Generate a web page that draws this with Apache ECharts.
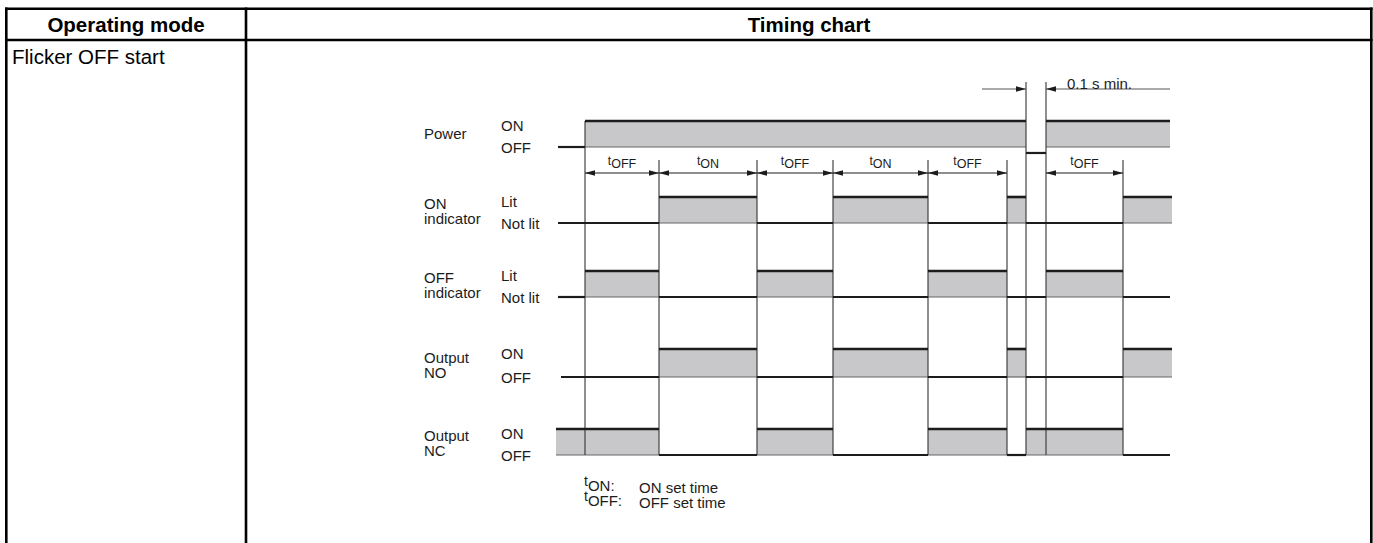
<!DOCTYPE html>
<html><head><meta charset="utf-8">
<script src="https://cdn.jsdelivr.net/npm/echarts@6/dist/echarts.min.js"></script>
<style>html,body{margin:0;padding:0;background:#fff}#c{width:1373px;height:543px}</style>
</head><body><div id="c"></div>
<script>
// ---------------- data ----------------
const headers = ['Operating mode', 'Timing chart'];
const modeName = 'Flicker OFF start';
const signalNames = ['Power', 'ON\nindicator', 'OFF\nindicator', 'Output\nNO', 'Output\nNC'];
const highLabels = ['ON', 'Lit', 'Lit', 'ON', 'ON'];
const lowLabels = ['OFF', 'Not lit', 'Not lit', 'OFF', 'OFF'];
// transition times (drawing time units, 0 = power switched on); one level per interval
const powerTimes = [-27, 0, 441, 461, 585];
const powerLevels = [0, 1, -0.23, 1];
const onIndTimes = [-27, 74, 172, 248, 343, 422, 441, 538, 587];
const onIndLevels = [0, 1, 0, 1, 0, 1, 0, 1];
const offIndTimes = [-27, 0, 74, 172, 248, 343, 422, 461, 538, 585];
const offIndLevels = [0, 1, 0, 1, 0, 1, 0, 1, 0];
const noTimes = [-24, 74, 172, 248, 343, 422, 441, 538, 587];
const noLevels = [0, 1, 0, 1, 0, 1, 0, 1];
const ncTimes = [-29, 74, 172, 248, 343, 422, 441, 538, 585];
const ncLevels = [1, 0, 1, 0, 1, 0, 1, 0];
const timingMarks = [0, 74, 172, 248, 343, 422, 441, 461, 538];
const dimStarts = [0, 74, 172, 248, 343, 461];
const dimEnds = [74, 172, 248, 343, 422, 538];
const dimNames = ['OFF', 'ON', 'OFF', 'ON', 'OFF', 'OFF'];
const minOffStart = 441, minOffEnd = 461, minOffLabel = '0.1 s min.';
const noteKeys = ['ON', 'OFF'];
const noteTexts = ['ON set time', 'OFF set time'];

// ---------------- layout ----------------
const FONT = '"Liberation Sans", Arial, Helvetica, sans-serif';
const rowBase = [147, 223, 297, 377, 455];
const rowAmp = [26, 26, 26, 28, 26];
const FILL = '#c8c8ca', INK = '#1c1c1c';
const dimY = 173, markTop = 160, markTopPower = 82, markBottom = 455, minOffY = 89;

const signals = [
  [powerTimes, powerLevels], [onIndTimes, onIndLevels], [offIndTimes, offIndLevels],
  [noTimes, noLevels], [ncTimes, ncLevels]
];
const segData = [];
signals.forEach(([times, levels], r) => {
  for (let i = 0; i < levels.length; i++) segData.push([times[i], times[i + 1], levels[i], r]);
});

function fillItem(params, api) {
  const t0 = api.value(0), t1 = api.value(1), lv = api.value(2), r = api.value(3);
  if (lv <= 0) return { type: 'group', children: [] };
  const yB = rowBase[r], yL = yB - lv * rowAmp[r];
  const a = api.coord([t0, yB]), b = api.coord([t1, yL]);
  return { type: 'group', children: [
    { type: 'rect', shape: { x: a[0], y: b[1], width: b[0] - a[0], height: a[1] - b[1] }, style: { fill: FILL } },
    { type: 'line', shape: { x1: a[0], y1: a[1], x2: b[0], y2: a[1] }, style: { stroke: '#666', lineWidth: 1.2 } }
  ]};
}
function traceItem(params, api) {
  const t0 = api.value(0), t1 = api.value(1), lv = api.value(2), r = api.value(3);
  const y = rowBase[r] - lv * rowAmp[r];
  const a = api.coord([t0, y]), b = api.coord([t1, y]);
  return { type: 'line', shape: { x1: a[0], y1: a[1], x2: b[0], y2: b[1] },
    style: { stroke: INK, lineWidth: lv > 0 ? 2.6 : 2.2 } };
}
function markItem(params, api) {
  const t = api.value(0);
  let top = markTop;
  if (t === powerTimes[1]) top = rowBase[0] - rowAmp[0];
  else if (powerTimes.indexOf(t) > 0) top = markTopPower;
  const a = api.coord([t, top]), b = api.coord([t, markBottom]);
  return { type: 'line', shape: { x1: a[0], y1: a[1], x2: b[0], y2: b[1] }, style: { stroke: '#333', lineWidth: 1.1 } };
}
function arrowHead(tipX, y, dir) { // dir: -1 points left, +1 points right
  const L = 10, H = 2.8;
  return { type: 'polygon', shape: { points: [[tipX, y], [tipX - dir * L, y - H], [tipX - dir * L, y + H]] }, style: { fill: INK } };
}
const subRich = {
  t: { fontSize: 12, lineHeight: 12, verticalAlign: 'top', fontFamily: FONT, fill: INK },
  s: { fontSize: 12.5, lineHeight: 19, verticalAlign: 'middle', fontFamily: FONT, fill: INK }
};
function dimItem(params, api) {
  const t0 = api.value(0), t1 = api.value(1), idx = api.value(2);
  const a = api.coord([t0, dimY]), b = api.coord([t1, dimY]);
  return { type: 'group', children: [
    { type: 'line', shape: { x1: a[0], y1: a[1], x2: b[0], y2: b[1] }, style: { stroke: INK, lineWidth: 1 } },
    arrowHead(a[0], a[1], -1), arrowHead(b[0], b[1], 1),
    { type: 'text', style: { text: '{t|t}{s|' + dimNames[idx] + '}', rich: subRich,
      x: (a[0] + b[0]) / 2, y: a[1] - 9, align: 'center', verticalAlign: 'middle' } }
  ]};
}
function minOffItem(params, api) {
  const t0 = api.value(0), t1 = api.value(1);
  const a = api.coord([t0, minOffY]), b = api.coord([t1, minOffY]);
  const leftEnd = api.coord([t0 - 44, minOffY]), rightEnd = api.coord([powerTimes[powerTimes.length - 1], minOffY]);
  return { type: 'group', children: [
    { type: 'line', shape: { x1: leftEnd[0], y1: a[1], x2: a[0], y2: a[1] }, style: { stroke: '#555', lineWidth: 1.2 } },
    { type: 'line', shape: { x1: b[0], y1: b[1], x2: rightEnd[0], y2: b[1] }, style: { stroke: '#555', lineWidth: 1.2 } },
    arrowHead(a[0], a[1], 1), arrowHead(b[0], b[1], -1),
    { type: 'text', style: { text: minOffLabel, x: b[0] + 21, y: a[1] - 6, align: 'left', verticalAlign: 'middle',
      fontSize: 15, fontFamily: FONT, fill: INK } }
  ]};
}

// ---------------- graphic (table + labels) ----------------
const G = [];
const border = { stroke: '#000', lineWidth: 2.6 };
G.push({ type: 'line', shape: { x1: 5, y1: 8.7, x2: 1372.5, y2: 8.7 }, style: border });
G.push({ type: 'line', shape: { x1: 5, y1: 40, x2: 1372.5, y2: 40 }, style: border });
G.push({ type: 'line', shape: { x1: 6.3, y1: 7.5, x2: 6.3, y2: 543 }, style: border });
G.push({ type: 'line', shape: { x1: 246, y1: 7.5, x2: 246, y2: 543 }, style: border });
G.push({ type: 'line', shape: { x1: 1371.3, y1: 7.5, x2: 1371.3, y2: 543 }, style: border });
G.push({ type: 'text', style: { text: headers[0], x: 126, y: 24.5, align: 'center', verticalAlign: 'middle',
  font: 'bold 20.5px ' + FONT, fill: '#000' } });
G.push({ type: 'text', style: { text: headers[1], x: 809, y: 24.5, align: 'center', verticalAlign: 'middle',
  font: 'bold 20.5px ' + FONT, fill: '#000' } });
G.push({ type: 'text', style: { text: modeName, x: 12, y: 56.5, align: 'left', verticalAlign: 'middle',
  font: '20.5px ' + FONT, fill: '#000' } });
signalNames.forEach((name, r) => {
  const base = rowBase[r];
  const cy = r === 0 ? base - 14 : base - 12;
  G.push({ type: 'text', style: { text: name, x: 424, y: cy, align: 'left', verticalAlign: 'middle',
    font: '15px ' + FONT, lineHeight: 15.5, fill: INK } });
  G.push({ type: 'text', style: { text: highLabels[r], x: 501, y: base - rowAmp[r] + 4, align: 'left', verticalAlign: 'middle',
    font: '15px ' + FONT, fill: INK } });
  G.push({ type: 'text', style: { text: lowLabels[r], x: 501, y: base, align: 'left', verticalAlign: 'middle',
    font: '15px ' + FONT, fill: INK } });
});
const noteRich = {
  t: { fontSize: 14, lineHeight: 14, verticalAlign: 'top', fontFamily: FONT, fill: INK },
  s: { fontSize: 15, lineHeight: 22, verticalAlign: 'middle', fontFamily: FONT, fill: INK }
};
noteKeys.forEach((k, i) => {
  const cy = 487 + i * 15;
  G.push({ type: 'text', style: { text: '{t|t}{s|' + k + ':}', rich: noteRich, x: 584, y: cy - 2, align: 'left', verticalAlign: 'middle' } });
  G.push({ type: 'text', style: { text: noteTexts[i], x: 639, y: cy, align: 'left', verticalAlign: 'middle',
    font: '15px ' + FONT, fill: INK } });
});

const chart = echarts.init(document.getElementById('c'), null, { renderer: 'svg' });
chart.setOption({
  animation: false,
  backgroundColor: '#fff',
  grid: { left: 540, top: 60, width: 650, height: 410 },
  xAxis: { type: 'value', min: -45, max: 605, show: false },
  yAxis: { type: 'value', min: 60, max: 470, inverse: true, show: false },
  graphic: G,
  series: [
    { type: 'custom', name: 'fill', renderItem: fillItem, data: segData, clip: false, encode: { x: [0, 1] }, z: 1, silent: true },
    { type: 'custom', name: 'marks', renderItem: markItem, data: timingMarks.map(t => [t]), clip: false, encode: { x: 0 }, z: 2, silent: true },
    { type: 'custom', name: 'trace', renderItem: traceItem, data: segData, clip: false, encode: { x: [0, 1] }, z: 3, silent: true },
    { type: 'custom', name: 'dims', renderItem: dimItem, data: dimStarts.map((s, i) => [s, dimEnds[i], i]), clip: false, encode: { x: [0, 1] }, z: 4, silent: true },
    { type: 'custom', name: 'minoff', renderItem: minOffItem, data: [[minOffStart, minOffEnd]], clip: false, encode: { x: [0, 1] }, z: 4, silent: true }
  ]
});
</script></body></html>
